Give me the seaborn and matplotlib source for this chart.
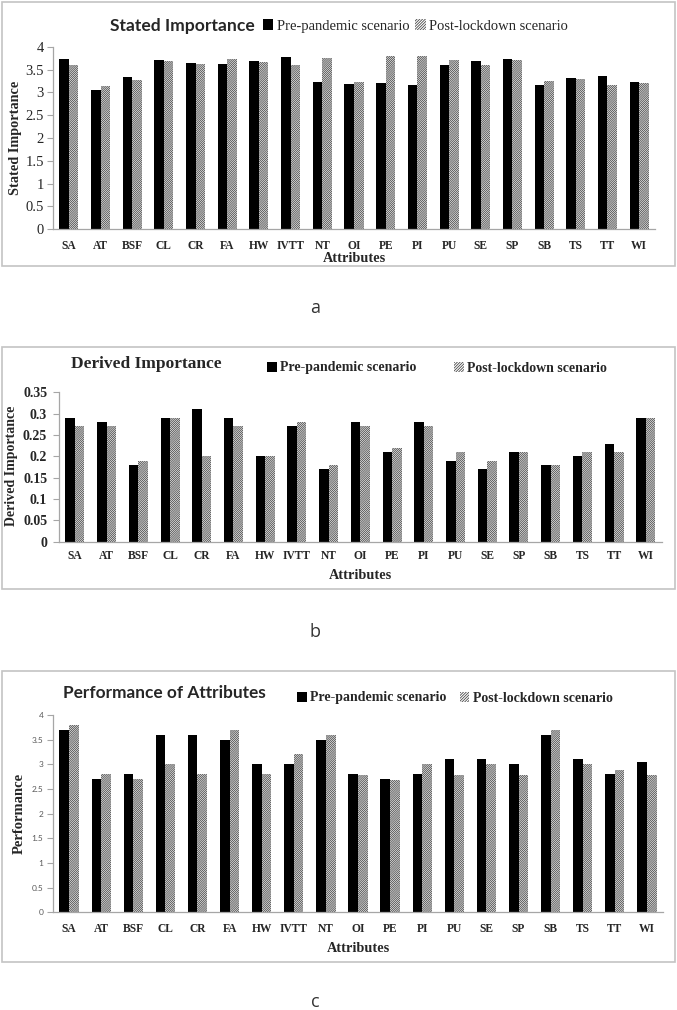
import matplotlib
matplotlib.use("Agg")
import matplotlib.pyplot as plt
from matplotlib.patches import Patch, Rectangle
import numpy as np
import pandas as pd
import seaborn as sns

attributes = ['SA', 'AT', 'BSF', 'CL', 'CR', 'FA', 'HW', 'IVTT', 'NT', 'OI',
              'PE', 'PI', 'PU', 'SE', 'SP', 'SB', 'TS', 'TT', 'WI']
scenarios = ['Pre-pandemic scenario', 'Post-lockdown scenario']

stated_pre = [3.72, 3.05, 3.33, 3.70, 3.65, 3.63, 3.69, 3.78, 3.23, 3.19,
              3.21, 3.16, 3.60, 3.68, 3.73, 3.16, 3.31, 3.35, 3.22]
stated_post = [3.61, 3.13, 3.27, 3.69, 3.63, 3.73, 3.67, 3.61, 3.76, 3.23,
               3.79, 3.79, 3.71, 3.61, 3.71, 3.25, 3.29, 3.16, 3.21]

derived_pre = [0.29, 0.28, 0.18, 0.29, 0.31, 0.29, 0.20, 0.27, 0.17, 0.28,
               0.21, 0.28, 0.19, 0.17, 0.21, 0.18, 0.20, 0.23, 0.29]
derived_post = [0.27, 0.27, 0.19, 0.29, 0.20, 0.27, 0.20, 0.28, 0.18, 0.27,
                0.22, 0.27, 0.21, 0.19, 0.21, 0.18, 0.21, 0.21, 0.29]

perf_pre = [3.7, 2.7, 2.8, 3.6, 3.6, 3.5, 3.0, 3.0, 3.5, 2.8,
            2.7, 2.8, 3.1, 3.1, 3.0, 3.6, 3.1, 2.8, 3.05]
perf_post = [3.8, 2.8, 2.7, 3.0, 2.8, 3.7, 2.8, 3.2, 3.6, 2.78,
             2.69, 3.0, 2.78, 3.0, 2.78, 3.7, 3.0, 2.88, 2.78]

W, H = 677, 1010
SERIF = 'Liberation Serif'
SANS = 'Lato'
AXIS_GRAY = '#a6a6a6'
HATCH_GRAY = '#4a4a4a'

sns.set_theme(style='white')
plt.rcParams['font.family'] = [SERIF, 'DejaVu Sans']
plt.rcParams['hatch.linewidth'] = 0.6

fig = plt.figure(figsize=(W / 100, H / 100), dpi=100)


def rect(x0, y_top, x1, y_bot):
    # pixel box (top-left origin) -> figure fraction rect
    return [x0 / W, 1 - y_bot / H, (x1 - x0) / W, (y_bot - y_top) / H]


def draw_panel(box, ax_box, pre, post, ymax, step, title, title_font, title_xy,
               ylabel, ylabel_xy, xlabel_y, legend_xy, legend_font, col_space,
               ytick_font, ytick_pad, xtick_pad, letter, letter_y):
    # grey frame around the panel
    x0, yt, x1, yb = box
    fig.add_artist(Rectangle((x0 / W, 1 - yb / H), (x1 - x0) / W, (yb - yt) / H,
                             transform=fig.transFigure, fill=False,
                             edgecolor='#c4c4c4', linewidth=1.2))

    ax = fig.add_axes(rect(*ax_box))
    data = pd.DataFrame({'attribute': attributes * 2,
                         'scenario': [scenarios[0]] * len(pre) + [scenarios[1]] * len(post),
                         'value': pre + post})
    sns.barplot(data=data, x='attribute', y='value', hue='scenario',
                hue_order=scenarios, order=attributes, palette=['black', 'white'],
                width=0.6, saturation=1, errorbar=None, legend=False, ax=ax)
    for bar in ax.containers[0]:
        bar.set_linewidth(0)
    for bar in ax.containers[1]:
        bar.set_facecolor('white')
        bar.set_edgecolor(HATCH_GRAY)
        bar.set_hatch('/' * 16)
        bar.set_linewidth(0)

    ax.set_ylim(0, ymax)
    ticks = np.round(np.arange(0, ymax + step / 2, step), 4)
    ax.set_yticks(ticks)
    ax.set_yticklabels([f'{t:g}' for t in ticks], **ytick_font)
    ax.set_xticks(range(len(attributes)))
    ax.set_xticklabels(attributes, fontfamily=SERIF, fontweight='bold', fontsize=8.3)
    ax.set_xticks(np.arange(-0.5, len(attributes), 1), minor=True)
    ax.tick_params(axis='x', which='major', length=0, pad=xtick_pad)
    ax.tick_params(axis='x', which='minor', length=4, width=0.8, color=AXIS_GRAY, direction='out')
    ax.tick_params(axis='y', length=4, width=0.8, color=AXIS_GRAY, direction='out', pad=ytick_pad, left=True)
    sns.despine(ax=ax)
    for side in ['left', 'bottom']:
        ax.spines[side].set_color(AXIS_GRAY)
        ax.spines[side].set_linewidth(0.9)
    ax.grid(False)

    ax.set_xlabel('Attributes', fontfamily=SERIF, fontweight='bold', fontsize=10.3)
    ax.xaxis.set_label_coords(0.5, xlabel_y)
    ax.set_ylabel(ylabel, fontfamily=SERIF, fontweight='bold', fontsize=ylabel_xy[2])
    ax.yaxis.set_label_coords(ylabel_xy[0], ylabel_xy[1])

    fig.text(title_xy[0] / W, 1 - title_xy[1] / H, title, ha='center', va='center', **title_font)

    handles = [Patch(facecolor='black', linewidth=0),
               Patch(facecolor='white', edgecolor=HATCH_GRAY, hatch='/' * 12, linewidth=0)]
    ax.legend(handles, scenarios, ncol=2, loc='center left',
              bbox_to_anchor=(legend_xy[0] / W, 1 - legend_xy[1] / H),
              bbox_transform=fig.transFigure, frameon=False, borderpad=0,
              borderaxespad=0, handlelength=0.7, handleheight=0.7,
              handletextpad=0.25, columnspacing=col_space, prop=legend_font)

    fig.text(315 / W, 1 - letter_y / H, letter, ha='center', va='center',
             fontfamily='Open Sans', fontsize=13, color='#333333')
    return ax


# a - stated importance
draw_panel(box=(2, 2, 675, 265.7), ax_box=(53, 46.7, 655, 229.3),
           pre=stated_pre, post=stated_post, ymax=4, step=0.5,
           title='Stated Importance',
           title_font=dict(fontfamily=SANS, fontweight='bold', fontsize=12.6),
           title_xy=(182, 26.5),
           ylabel='Stated Importance', ylabel_xy=(-0.052, 0.5, 10.3),
           xlabel_y=-0.125, legend_xy=(263, 26),
           legend_font=dict(family=SERIF, size=10.5), col_space=0.4,
           ytick_font=dict(fontfamily=SERIF, fontsize=10.5),
           ytick_pad=2.5, xtick_pad=7.5, letter='a', letter_y=308)

# b - derived importance
draw_panel(box=(2, 347.3, 675, 589), ax_box=(59, 392.3, 661.7, 541.7),
           pre=derived_pre, post=derived_post, ymax=0.35, step=0.05,
           title='Derived Importance',
           title_font=dict(fontfamily=SERIF, fontweight='bold', fontsize=12.5),
           title_xy=(146, 363.5),
           ylabel='Derived Importance', ylabel_xy=(-0.068, 0.51, 10),
           xlabel_y=-0.18, legend_xy=(267, 368),
           legend_font=dict(family=SERIF, weight='bold', size=10), col_space=2.7,
           ytick_font=dict(fontfamily=SERIF, fontweight='bold', fontsize=10),
           ytick_pad=4.5, xtick_pad=6, letter='b', letter_y=632)

# c - performance
draw_panel(box=(2, 670.7, 675, 961.7), ax_box=(53, 715, 663, 912.3),
           pre=perf_pre, post=perf_post, ymax=4, step=0.5,
           title='Performance of Attributes',
           title_font=dict(fontfamily=SANS, fontweight='bold', fontsize=12.4),
           title_xy=(164.5, 693),
           ylabel='Performance', ylabel_xy=(-0.045, 0.5, 10.5),
           xlabel_y=-0.148, legend_xy=(297, 698),
           legend_font=dict(family=SERIF, weight='bold', size=10), col_space=0.95,
           ytick_font=dict(fontfamily=SANS, fontsize=6, color='#595959'),
           ytick_pad=3, xtick_pad=8, letter='c', letter_y=1002)

fig.savefig('out.png', dpi=100)
